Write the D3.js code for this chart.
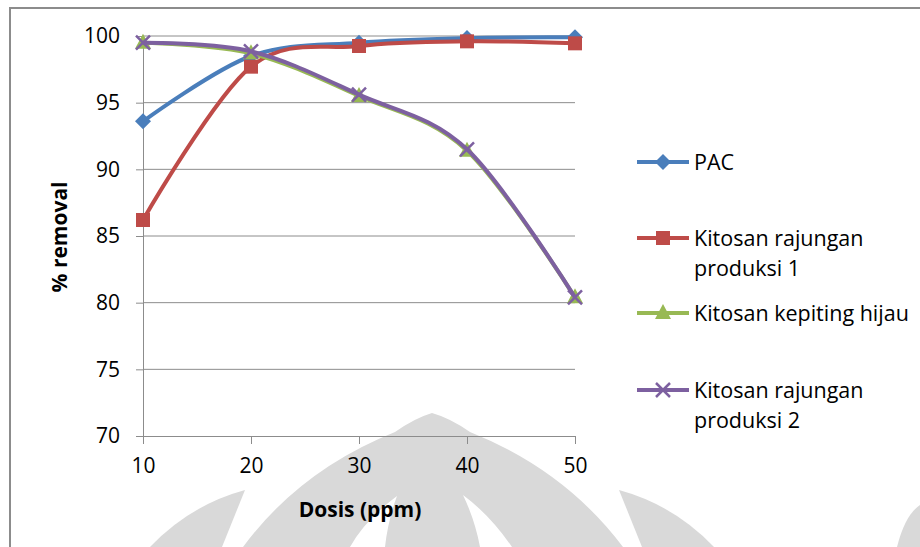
<!DOCTYPE html>
<html>
<head>
<meta charset="utf-8">
<script src="https://cdn.jsdelivr.net/npm/d3@7"></script>
<style>
  body { margin: 0; background: #fff; }
  text { font-family: "Open Sans", "Liberation Sans", sans-serif; fill: #000; }
</style>
</head>
<body>
<script>
// data
const doses = [10, 20, 30, 40, 50];
const pac = [93.6, 98.5, 99.5, 99.85, 99.9];
const rajungan1 = [86.2, 97.7, 99.25, 99.6, 99.45];
const kepitingHijau = [99.5, 98.7, 95.5, 91.4, 80.4];
const rajungan2 = [99.5, 98.85, 95.6, 91.5, 80.4];
const yTicks = [70, 75, 80, 85, 90, 95, 100];
const seriesNames = ["PAC", "Kitosan rajungan produksi 1", "Kitosan kepiting hijau", "Kitosan rajungan produksi 2"];

const series = [
  {name: seriesNames[0], values: pac, color: "#4a7ebb", marker: "diamond"},
  {name: seriesNames[1], values: rajungan1, color: "#be4b48", marker: "square"},
  {name: seriesNames[2], values: kepitingHijau, color: "#98b954", marker: "triangle"},
  {name: seriesNames[3], values: rajungan2, color: "#7d60a0", marker: "x"}
];

const W = 920, H = 547;
const font = "'Open Sans', 'Liberation Sans', sans-serif";
const svg = d3.select("body").append("svg").attr("width", W).attr("height", H);

// watermark in the background (scanned page logo)
const wm = svg.append("g").attr("fill", "#d9d9d9");
wm.append("path").attr("d", "M150,547 Q190,505 245,490 L222,547 Z");
wm.append("path").attr("d", "M714,547 Q674,505 619,490 L642,547 Z");
wm.append("path").attr("d", "M243,547 Q300,470 395,432 Q415,418 432,413 Q450,418 470,432 Q565,470 623,547 L512,547 Q490,515 463,495 Q475,520 480,547 L385,547 Q388,520 397,496 Q365,520 350,547 Z");
wm.append("path").attr("d", "M920,505 Q905,515 897,547 L920,547 Z");

// outer chart frame (clipped by page)
svg.append("path")
  .attr("d", "M10,547 L10,8 L920,8")
  .attr("fill", "none").attr("stroke", "#8c8c8c").attr("stroke-width", 2);

const x = d3.scaleLinear().domain([10, 50]).range([143, 575]);
const y = d3.scaleLinear().domain([70, 100]).range([436, 36]);

// gridlines
svg.append("g").selectAll("line").data(yTicks.slice(1)).enter().append("line")
  .attr("x1", x(10)).attr("x2", x(50))
  .attr("y1", d => y(d)).attr("y2", d => y(d))
  .attr("stroke", "#8c8c8c").attr("stroke-width", 1);

// y axis
const yAxis = svg.append("g").attr("transform", `translate(${x(10)},0)`)
  .call(d3.axisLeft(y).tickValues(yTicks).tickSize(7).tickPadding(16));
yAxis.select(".domain").attr("stroke", "#8c8c8c");
yAxis.selectAll(".tick line").attr("stroke", "#8c8c8c");
yAxis.selectAll("text").attr("font-size", 21).attr("fill", "#000");

// x axis
const xAxis = svg.append("g").attr("transform", `translate(0,${y(70)})`)
  .call(d3.axisBottom(x).tickValues(doses).tickSize(8).tickPadding(14));
xAxis.select(".domain").attr("stroke", "#8c8c8c");
xAxis.selectAll(".tick line").attr("stroke", "#8c8c8c");
xAxis.selectAll("text").attr("font-size", 21).attr("fill", "#000");
svg.selectAll(".tick text").style("font-family", font);

// axis titles
svg.append("text").attr("x", 360).attr("y", 517).attr("text-anchor", "middle")
  .attr("font-size", 21).attr("font-weight", "bold").text("Dosis (ppm)");
svg.append("text").attr("transform", "translate(67,237) rotate(-90)").attr("text-anchor", "middle")
  .attr("font-size", 21).attr("font-weight", "bold").text("% removal");

function drawMarker(g, type, color, cx, cy) {
  if (type === "diamond") {
    g.append("path").attr("d", `M${cx},${cy - 8} L${cx + 8},${cy} L${cx},${cy + 8} L${cx - 8},${cy} Z`).attr("fill", color);
  } else if (type === "square") {
    g.append("rect").attr("x", cx - 7).attr("y", cy - 7).attr("width", 14).attr("height", 14).attr("fill", color);
  } else if (type === "triangle") {
    g.append("path").attr("d", `M${cx},${cy - 9} L${cx + 8},${cy + 6} L${cx - 8},${cy + 6} Z`).attr("fill", color);
  } else {
    g.append("path").attr("d", `M${cx - 7},${cy - 7} L${cx + 7},${cy + 7} M${cx - 7},${cy + 7} L${cx + 7},${cy - 7}`)
      .attr("stroke", color).attr("stroke-width", 2.5).attr("fill", "none");
  }
}

const line = d3.line().x((d, i) => x(doses[i])).y(d => y(d)).curve(d3.curveCatmullRom.alpha(0));

series.forEach(s => {
  const g = svg.append("g");
  g.append("path").datum(s.values).attr("d", line)
    .attr("fill", "none").attr("stroke", s.color).attr("stroke-width", 4).attr("stroke-linejoin", "round");
  s.values.forEach((v, i) => drawMarker(g, s.marker, s.color, x(doses[i]), y(v)));
});

// legend
const legendRows = [
  {lines: ["PAC"], y: 162},
  {lines: ["Kitosan rajungan", "produksi 1"], y: 238},
  {lines: ["Kitosan kepiting hijau"], y: 313},
  {lines: ["Kitosan rajungan", "produksi 2"], y: 390}
];
series.forEach((s, i) => {
  const r = legendRows[i];
  const g = svg.append("g");
  g.append("line").attr("x1", 637).attr("x2", 689).attr("y1", r.y).attr("y2", r.y)
    .attr("stroke", s.color).attr("stroke-width", 4);
  drawMarker(g, s.marker, s.color, 663, r.y);
  r.lines.forEach((t, j) => {
    g.append("text").attr("x", 694).attr("y", r.y + j * 30).attr("dy", "0.35em")
      .attr("font-size", 21.5).text(t);
  });
});
</script>
</body>
</html>
